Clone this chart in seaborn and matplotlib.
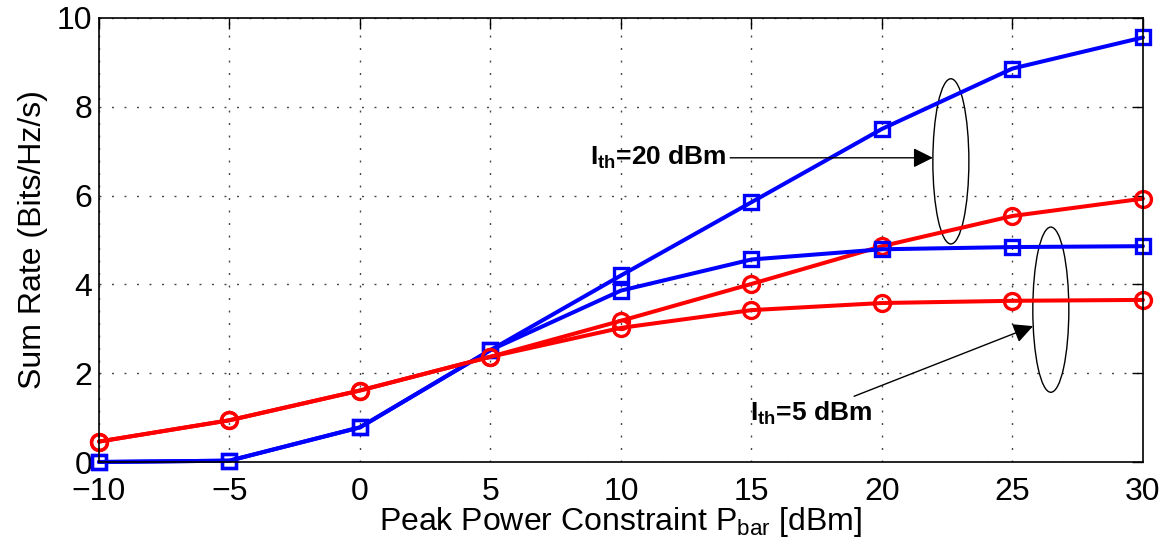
import numpy as np
import pandas as pd
import matplotlib
matplotlib.use('Agg')
import matplotlib.pyplot as plt
import seaborn as sns
from matplotlib.patches import Ellipse

# peak power constraint [dBm]
p_bar = [-10, -5, 0, 5, 10, 15, 20, 25, 30]

# sum rate, blue squares / red circles, for two interference thresholds
blue_ith20 = [0.0, 0.03, 0.78, 2.52, 4.20, 5.85, 7.50, 8.86, 9.56]
red_ith20 = [0.46, 0.94, 1.61, 2.37, 3.18, 4.01, 4.86, 5.54, 5.93]
blue_ith5 = [0.0, 0.03, 0.78, 2.52, 3.86, 4.56, 4.79, 4.84, 4.86]
red_ith5 = [0.46, 0.94, 1.61, 2.37, 3.02, 3.42, 3.58, 3.63, 3.65]

sns.set_theme(style='white')
plt.rcParams['font.family'] = ['Liberation Sans', 'DejaVu Sans']
plt.rcParams['mathtext.fontset'] = 'custom'
plt.rcParams['mathtext.rm'] = 'Liberation Sans'
plt.rcParams['mathtext.default'] = 'regular'
plt.rcParams['text.color'] = 'black'
plt.rcParams['axes.labelcolor'] = 'black'

series = [
    (blue_ith20, '#0000ff', 's', 10),
    (red_ith20, '#ff0000', 'o', 11.5),
    (blue_ith5, '#0000ff', 's', 10),
    (red_ith5, '#ff0000', 'o', 11.5),
]

fig = plt.figure(figsize=(11.67, 5.6), dpi=100)
ax = fig.add_axes([0.0848, 0.175, 0.8946, 0.793])

for vals, col, mk, ms in series:
    df = pd.DataFrame({'p': p_bar, 'rate': vals})
    sns.lineplot(data=df, x='p', y='rate', ax=ax, color=col, lw=2.9,
                 marker=mk, markersize=ms, markerfacecolor='none',
                 markeredgecolor=col, markeredgewidth=2.4, clip_on=False)

ax.set_xlim(-10, 30)
ax.set_ylim(0, 10)
ax.set_xticks(range(-10, 31, 5))
ax.set_yticks(range(0, 11, 2))
ax.grid(True, linestyle=(0, (1.4, 7.6)), color='#444444', linewidth=1.0)
ax.tick_params(direction='in', length=8, width=1, top=True, right=True,
               labelsize=23, colors='black')
ax.tick_params(axis='x', pad=10.5)
ax.tick_params(axis='y', pad=5)
for s in ax.spines.values():
    s.set_visible(True)
    s.set_color('black')
    s.set_linewidth(1.2)

ax.set_xlabel('Peak Power Constraint P$_{bar}$ [dBm]', fontsize=23, labelpad=-1)
ax.set_ylabel('Sum Rate (Bits/Hz/s)', fontsize=23, labelpad=6)

# ellipses grouping the curves
ax.add_patch(Ellipse((22.64, 6.77), 1.38, 3.72, fill=False, ec='black', lw=1))
ax.add_patch(Ellipse((26.47, 3.43), 1.38, 3.72, fill=False, ec='black', lw=1))

ax.annotate('I$_{th}$=20 dBm', xy=(21.95, 6.85), xytext=(14.06, 6.85),
            ha='right', va='center', fontsize=19, fontweight='bold',
            arrowprops=dict(arrowstyle='-|>', color='black', lw=1,
                            mutation_scale=30, shrinkA=0, shrinkB=0))
ax.annotate('I$_{th}$=5 dBm', xy=(25.79, 3.06), xytext=(19.62, 1.10),
            ha='right', va='center', fontsize=19, fontweight='bold',
            arrowprops=dict(arrowstyle='-|>', color='black', lw=1,
                            mutation_scale=30, shrinkA=0, shrinkB=0))

fig.savefig('out.png', dpi=100)
